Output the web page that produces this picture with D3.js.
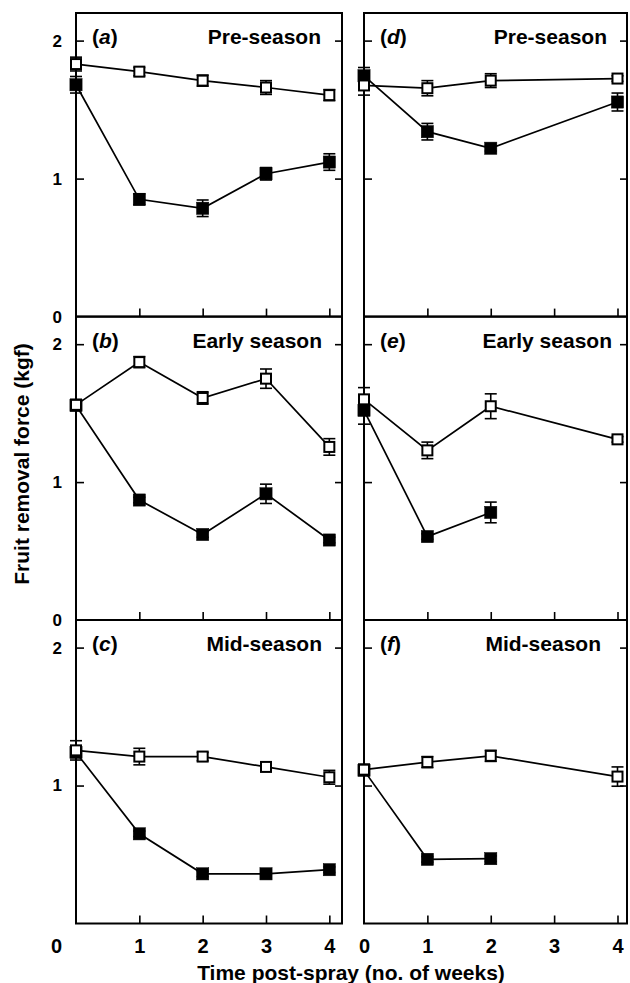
<!DOCTYPE html>
<html>
<head>
<meta charset="utf-8">
<script src="https://cdn.jsdelivr.net/npm/d3@7"></script>
<style>
  body { margin: 0; background: #fff; }
  text { font-family: "Liberation Sans", Arial, sans-serif; font-weight: bold; fill: #000; }
</style>
</head>
<body>
<div id="chart"></div>
<script>
/* DATA */
const weeksFull = [0, 1, 2, 3, 4];
const weeksNo3 = [0, 1, 2, 4];
const weeksShort = [0, 1, 2];

// (a) Pre-season, left
const openA = [1.83, 1.775, 1.71, 1.66, 1.605];
const openErrA = [0.05, 0.03, 0.04, 0.05, 0.04];
const filledA = [1.68, 0.85, 0.785, 1.035, 1.12];
const filledErrA = [0.06, 0.04, 0.06, 0.045, 0.06];
// (b) Early season, left
const openB = [1.56, 1.87, 1.61, 1.75, 1.255];
const openErrB = [0.04, 0.04, 0.045, 0.07, 0.06];
const filledB = [1.555, 0.87, 0.62, 0.915, 0.58];
const filledErrB = [0.03, 0.02, 0.02, 0.07, 0.02];
// (c) Mid-season, left
const openC = [1.255, 1.21, 1.21, 1.135, 1.06];
const openErrC = [0.07, 0.06, 0.03, 0.02, 0.05];
const filledC = [1.24, 0.65, 0.36, 0.36, 0.39];
const filledErrC = [0.03, 0.02, 0.02, 0.02, 0.02];
// (d) Pre-season, right
const openD = [1.675, 1.655, 1.71, 1.725];
const openErrD = [0.07, 0.055, 0.05, 0.02];
const filledD = [1.745, 1.34, 1.22, 1.555];
const filledErrD = [0.06, 0.06, 0.02, 0.065];
// (e) Early season, right
const openE = [1.6, 1.23, 1.55, 1.31];
const openErrE = [0.085, 0.06, 0.09, 0.02];
const filledE = [1.52, 0.605, 0.78];
const filledErrE = [0.1, 0.02, 0.075];
// (f) Mid-season, right
const openF = [1.115, 1.17, 1.215, 1.065];
const openErrF = [0.04, 0.04, 0.04, 0.07];
const filledF = [1.11, 0.465, 0.47];
const filledErrF = [0.02, 0.02, 0.02];

const yTicks = [1, 2];
const xTicks = [1, 2, 3, 4];
const xLabels = [0, 1, 2, 3, 4];

/* LAYOUT */
const width = 630, height = 983;
const cols = [
  { x0: 76, x1: 342, max: 4.2, zeroShift: -20 },
  { x0: 364, x1: 627, max: 4.15, zeroShift: 0 }
];
const rows = [
  { top: 13, bottom: 316.6 },
  { top: 316.6, bottom: 620 },
  { top: 620, bottom: 923.5 }
];

const panels = [
  { col: 0, row: 0, letter: "a", title: "Pre-season", end: 321, yLabels: [0, 1, 2],
    open: { w: weeksFull, v: openA, e: openErrA }, filled: { w: weeksFull, v: filledA, e: filledErrA } },
  { col: 0, row: 1, letter: "b", title: "Early season", end: 322, yLabels: [0, 1, 2],
    open: { w: weeksFull, v: openB, e: openErrB }, filled: { w: weeksFull, v: filledB, e: filledErrB } },
  { col: 0, row: 2, letter: "c", title: "Mid-season", end: 322, yLabels: [1, 2],
    open: { w: weeksFull, v: openC, e: openErrC }, filled: { w: weeksFull, v: filledC, e: filledErrC } },
  { col: 1, row: 0, letter: "d", title: "Pre-season", end: 607, yLabels: [],
    open: { w: weeksNo3, v: openD, e: openErrD }, filled: { w: weeksNo3, v: filledD, e: filledErrD } },
  { col: 1, row: 1, letter: "e", title: "Early season", end: 612, yLabels: [],
    open: { w: weeksNo3, v: openE, e: openErrE }, filled: { w: weeksShort, v: filledE, e: filledErrE } },
  { col: 1, row: 2, letter: "f", title: "Mid-season", end: 601, yLabels: [],
    open: { w: weeksNo3, v: openF, e: openErrF }, filled: { w: weeksShort, v: filledF, e: filledErrF } }
];

const svg = d3.select("#chart").append("svg")
  .attr("width", width)
  .attr("height", height);

function toPoints(s) {
  return s.w.map((w, i) => ({ w: w, v: s.v[i], e: s.e[i] }));
}

panels.forEach(p => {
  const c = cols[p.col], r = rows[p.row];
  const x = d3.scaleLinear().domain([0, c.max]).range([c.x0, c.x1]);
  const y = d3.scaleLinear().domain([0, 2.2]).range([r.bottom, r.top]);
  const g = svg.append("g");

  // inward ticks
  g.append("g")
    .attr("transform", `translate(0,${r.bottom})`)
    .call(d3.axisBottom(x).tickValues(xTicks).tickSize(-8).tickFormat(""))
    .call(a => a.select(".domain").remove());
  g.append("g")
    .attr("transform", `translate(${c.x0},0)`)
    .call(d3.axisLeft(y).tickValues(yTicks).tickSize(-8).tickFormat(""))
    .call(a => a.select(".domain").remove());
  g.append("g")
    .attr("transform", `translate(${c.x1},0)`)
    .call(d3.axisRight(y).tickValues(yTicks).tickSize(-7).tickFormat(""))
    .call(a => a.select(".domain").remove());
  g.selectAll(".tick line").attr("stroke", "#000").attr("stroke-width", 1.6);

  // y tick labels
  if (p.yLabels.length) {
    g.append("g")
      .attr("transform", `translate(${c.x0},0)`)
      .call(d3.axisLeft(y).tickValues(p.yLabels).tickSize(0).tickPadding(14).tickFormat(d3.format("d")))
      .call(a => a.select(".domain").remove())
      .selectAll("text")
      .style("font-size", "17px")
      .attr("font-family", null);
  }

  // x tick labels on the bottom row
  if (p.row === 2) {
    const ax = g.append("g")
      .attr("transform", `translate(0,${r.bottom})`)
      .call(d3.axisBottom(x).tickValues(xLabels).tickSize(0).tickPadding(15).tickFormat(d3.format("d")))
      .call(a => a.select(".domain").remove());
    ax.selectAll("text")
      .style("font-size", "20px")
      .attr("font-family", null)
      .attr("x", d => d === 0 ? c.zeroShift : 0);
  }

  // frame
  g.append("rect")
    .attr("x", c.x0).attr("y", r.top)
    .attr("width", c.x1 - c.x0).attr("height", r.bottom - r.top)
    .attr("fill", "none").attr("stroke", "#000").attr("stroke-width", 2);

  // panel labels
  const lab = g.append("text")
    .attr("x", c.x0 + 16).attr("y", r.top + 31)
    .style("font-size", "21px");
  lab.append("tspan").text("(");
  lab.append("tspan").style("font-style", "italic").text(p.letter);
  lab.append("tspan").text(")");
  g.append("text")
    .attr("x", p.end).attr("y", r.top + 31)
    .attr("text-anchor", "end")
    .style("font-size", "21px")
    .text(p.title);

  const line = d3.line().x(d => x(d.w)).y(d => y(d.v));
  const openPts = toPoints(p.open), filledPts = toPoints(p.filled);

  [filledPts, openPts].forEach(pts => {
    g.append("path")
      .datum(pts)
      .attr("d", line)
      .attr("fill", "none")
      .attr("stroke", "#000")
      .attr("stroke-width", 1.7);
  });

  const cap = 6;
  function drawSeries(pts, isOpen) {
    const eb = g.append("g").attr("stroke", "#000").attr("stroke-width", 1.6);
    eb.selectAll("line.v").data(pts).join("line")
      .attr("x1", d => x(d.w)).attr("x2", d => x(d.w))
      .attr("y1", d => y(d.v - d.e)).attr("y2", d => y(d.v + d.e));
    eb.selectAll("line.t").data(pts).join("line")
      .attr("x1", d => x(d.w) - cap).attr("x2", d => x(d.w) + cap)
      .attr("y1", d => y(d.v + d.e)).attr("y2", d => y(d.v + d.e));
    eb.selectAll("line.b").data(pts).join("line")
      .attr("x1", d => x(d.w) - cap).attr("x2", d => x(d.w) + cap)
      .attr("y1", d => y(d.v - d.e)).attr("y2", d => y(d.v - d.e));
    const s = isOpen ? 10 : 12.2;
    g.append("g").selectAll("rect").data(pts).join("rect")
      .attr("x", d => x(d.w) - s / 2)
      .attr("y", d => y(d.v) - s / 2)
      .attr("width", s).attr("height", s)
      .attr("fill", isOpen ? "#fff" : "#000")
      .attr("stroke", "#000")
      .attr("stroke-width", isOpen ? 2 : 0.5);
  }
  drawSeries(filledPts, false);
  drawSeries(openPts, true);
});

// axis titles
svg.append("text")
  .attr("transform", "translate(29,464) rotate(-90)")
  .attr("text-anchor", "middle")
  .style("font-size", "21px")
  .text("Fruit removal force (kgf)");

svg.append("text")
  .attr("x", 351).attr("y", 980)
  .attr("text-anchor", "middle")
  .style("font-size", "21px")
  .text("Time post-spray (no. of weeks)");
</script>
</body>
</html>
